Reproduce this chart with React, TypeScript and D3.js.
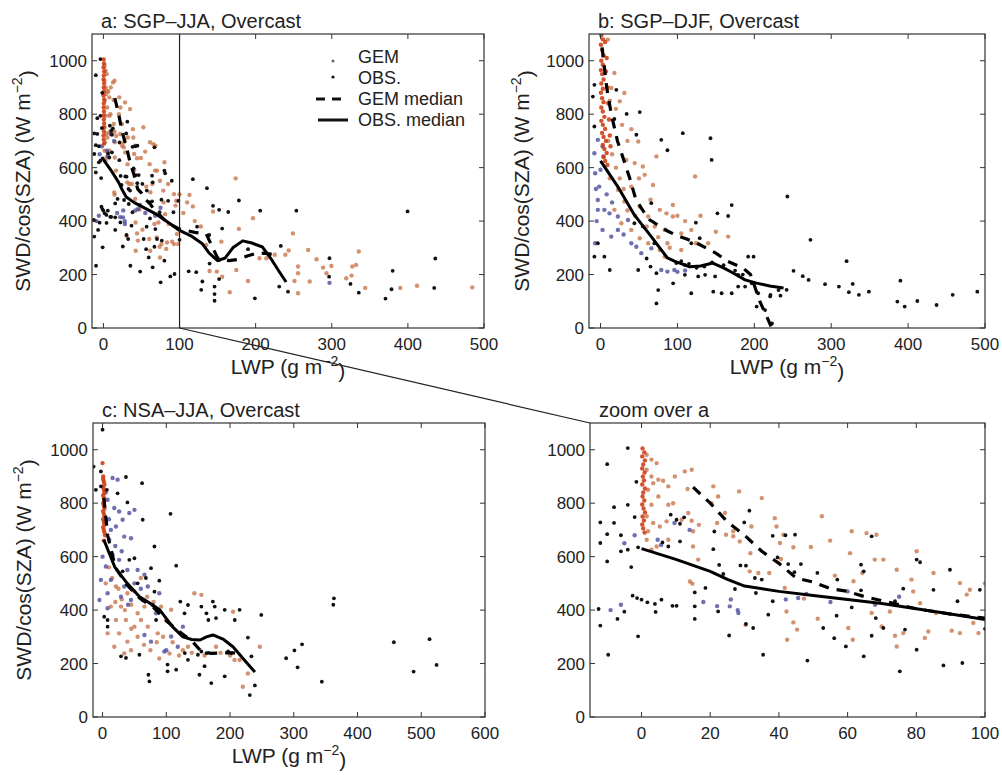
import React from 'react';
import * as d3 from 'd3';

type P = [number, number];

// ---------- tick labels / texts ----------
const xTicksAB = [0, 100, 200, 300, 400, 500];
const xTicksC = [0, 100, 200, 300, 400, 500, 600];
const xTicksD = [0, 20, 40, 60, 80, 100];
const yTicks = [0, 200, 400, 600, 800, 1000];
const titles = ['a: SGP\u2013JJA, Overcast', 'b: SGP\u2013DJF, Overcast', 'c: NSA\u2013JJA, Overcast', 'zoom over a'];
const legendLabels = ['GEM', 'OBS.', 'GEM median', 'OBS. median'];
const zoomLimit = 100;

// ---------- panel a (SGP-JJA) ----------
const aRed: P[] = [[0.3,1005],[0.8,990],[0.2,975],[1,960],[0.5,945],[0.2,930],[0.9,915],[0.4,900],[0.7,885],[0.2,870],[1,855],[0.5,840],[0.3,825],[0.8,810],[0.2,795],[0.6,780],[1,765],[0.3,750],[0.7,735],[0.2,720],[0.5,705],[0.9,690]];
const aOrange: P[] = [[1.5,981],[2.9,963],[4.4,950],[1.5,925],[2.9,900],[1.9,850],[3.4,875],[4.9,888],[6.3,884],[7.8,863],[9.2,800],[7.8,794],[4.9,825],[2.9,794],[1.5,751],[3.4,726],[5.3,713],[7.3,732],[7.8,663],[1.5,663],[1.9,695],[2.9,626],[4.4,638],[9.7,900],[12.6,919],[14.6,925],[13.4,853],[11.7,738],[13.6,763],[14.6,734],[15,695],[16.7,719],[15,638],[16.5,589],[14.1,507],[14.8,499],[20.9,863],[22.3,825],[20.4,800],[24.3,763],[22,726],[24.6,682],[26.7,695],[28.4,844],[28.6,657],[31.7,613],[32,713],[30.3,345],[31.5,545],[26.7,676],[34,539],[35,819],[37.2,539],[38.8,744],[39.3,713],[41.3,682],[40.3,651],[40.6,591],[42.2,395],[41.7,483],[44.2,354],[42.4,289],[45.3,327],[47.3,443],[44.2,635],[49.3,636],[52.5,751],[51.3,368],[54.9,660],[56.3,529],[60.7,613],[61.2,695],[60.2,333],[61.5,289],[61.7,508],[64.3,539],[65.5,688],[68.4,682],[67.9,589],[67,389],[69.9,339],[70.4,589],[72.3,395],[73.8,304],[74.3,264],[74.3,551],[76.2,314],[78.6,514],[79.1,470],[80.1,620],[81.1,426],[82.5,296],[83.5,320],[85,539],[85.7,389],[90.3,323],[92.7,501],[92.7,314],[94.7,458],[95.6,476],[96.6,352],[98.1,314],[98.5,370],[113,498],[117.5,455],[144,436],[173.7,560],[196.5,411],[178,371],[249,354],[155,323],[135,311],[243.4,290],[239,274],[269,292],[280,257],[288.6,226],[293,205],[255.7,230],[255.7,205],[251,176],[255.7,130],[271,174],[319,186],[326,196],[327,230],[332,236],[335.5,286],[344,150],[390,150],[412,158],[484.6,152],[190,176],[166,134],[174.6,217],[156,192],[149,211],[139.5,213],[205,261],[214,261],[225,274],[299.5,232],[105,430],[110,470],[120,400],[128,380],[100,500]];
const aBlue: P[] = [[-9,400],[-6,420],[18,430],[22,415],[26,440],[28,400],[14,700],[-2,680],[-5,650],[42,440],[48,460],[55,430],[60,470],[68,420],[75,450],[4.7,663],[5.7,644],[9.6,726],[25.7,414],[28.2,389],[45.6,445],[297,169]];
const aObs: P[] = [[-4,1006],[-10,946],[-12,651],[-12,728],[-10,684],[-8,785],[-8,726],[-4,794],[-6,680],[-1,635],[-6,620],[-4,626],[-10,582],[-3,561],[-2,748],[-1.5,880],[-12.5,404],[-12,342],[-7,367],[-5,394],[-2.6,454],[-1.3,445],[0,439],[1.7,429],[3.9,423],[4.1,393],[5.8,439],[9,416],[10.2,416],[-9.7,233],[-1,302],[6.1,653],[7.8,638],[10.2,738],[8.5,757],[11.2,723],[12.4,747],[11.2,657],[15.5,466],[15.5,414],[15.5,367],[20.9,628],[21.2,694],[22.6,569],[23.8,535],[22.3,395],[18.6,483],[25.5,305],[27.2,479],[28.8,567],[30.4,566],[31.4,772],[29.9,728],[33,520],[30.4,348],[32.5,333],[33.3,464],[35,514],[35.4,233],[36.9,383],[38.2,678],[38.2,433],[39.6,597],[41.9,680],[44.7,682],[42.7,572],[44.5,542],[46.4,572],[48.3,211],[51.2,539],[52.9,333],[56.8,379],[56.1,295],[59.5,264],[57,514],[61.2,410],[63.9,570],[64.7,545],[63.9,474],[67,304],[64.7,227],[67,676],[68.2,370],[70.4,333],[73.8,433],[76.2,480],[75.2,171],[76.7,327],[80.1,589],[81.1,579],[80.1,252],[85,476],[87.9,193],[89.8,551],[92,433],[93.4,202],[98.5,476],[100,330],[117.5,557],[136,523],[178,477],[144,457],[152,442],[164,434],[206,439],[253.5,439],[123,379],[156,372],[139,348],[233,307],[190,295],[112,212],[122,209],[130,174],[128.5,143],[146,155],[146,127],[146,102],[152,183],[199,111],[231,155],[242.5,136],[296.5,192],[297,261],[324.6,165],[335.5,132],[370.6,110],[380,214],[378.5,145],[399.6,436],[434.6,150],[436,260],[152,254],[139.5,241]];
const aGemMedian: P[] = [[15,860],[20,800],[25,730],[30,680],[35,620],[40,575],[45,520],[50,505],[55,480],[60,470],[65,450],[70,435],[75,420],[80,405],[90,385],[100,370],[120,358],[135,352],[142,310],[150,262],[165,252],[176,256],[190,270],[203,281],[216,278],[228,272]];
const aObsMedian: P[] = [[0,630],[10,590],[20,545],[25,515],[30,490],[40,470],[50,455],[60,440],[70,425],[80,405],[90,385],[100,365],[115,345],[130,315],[139,280],[150,252],[160,262],[170,300],[183,326],[195,318],[209,303],[220,260],[230,215],[240,172]];

// ---------- panel b (SGP-DJF) ----------
const bRed: P[] = [[1,1095],[3,1080],[0.5,1060],[2,1040],[4,1020],[1,1000],[3,985],[0.5,965],[2,950],[4,930],[1,915],[3,895],[0.5,880],[2,860],[4,845],[1,825],[3,810],[5,790],[1,775],[3,760],[6,745],[2,730],[4,715],[7,700],[3,685],[5,670],[8,655],[4,640],[6,625],[9,610],[6,1070],[8,1010],[7,960],[9,900],[10,840],[11,780],[12,720],[13,680]];
const bOrange: P[] = [[9.5,1079],[18,954],[31,879],[25,848],[14,898],[40,744],[49,698],[44.4,617],[33.5,629],[55,604],[72.7,642],[57.4,573],[68.3,535],[123,567],[94,460],[77,442],[85.8,429],[94,417],[62,417],[70.5,380],[83.5,367],[51,454],[40,529],[31,473],[22.6,517],[18,442],[27,392],[40,367],[51,336],[62,317],[77,292],[83.5,267],[87,317],[105,292],[105,354],[118,367],[166,342],[124,317],[140,317],[10,700],[15,650],[20,600],[25,560],[12,560],[30,520],[35,440],[45,420],[60,380],[75,340],[90,300],[100,420],[110,400],[130,420],[150,360],[20,820],[28,760],[12,850],[35,700],[50,560],[65,480]];
const bBlue: P[] = [[-3.5,704],[2.6,679],[-8,654],[3.8,642],[-7,579],[-1.8,529],[-3.5,479],[5,442],[11.6,429],[22.6,417],[35.7,404],[40,317],[46.6,304],[53,280],[66,298],[79,217],[87,211],[96,217],[0,592],[2.6,367],[-7,317],[-3.5,442],[22.6,367],[13.9,342],[-5,400],[8,500],[15,470],[-6,520],[30,350],[100,210],[110,215]];
const bObs: P[] = [[51,808],[107,729],[143,710],[144.5,629],[79,704],[87,665],[46.6,723],[34,801],[20.5,891],[-8,910],[-10,866],[-8,754],[18,782],[170.6,460],[166,419],[152,429],[124,394],[129,336],[70,317],[55,380],[49,217],[5,267],[-3.5,317],[-8,267],[12,217],[72.7,205],[75,142],[72.7,92],[94.4,167],[118,130],[146.6,136],[157.5,130],[170.6,130],[188,155],[196.7,167],[205,130],[220.6,118],[231.5,142],[192,267],[199,267],[203,80],[214,67],[223,17],[109.7,199],[127,193],[136,199],[149,193],[179,199],[179,155],[98.5,243],[109.7,236],[44,392],[66,467],[118,317],[243,492],[273,330],[251,214],[263,194],[270.6,180],[292,164],[310,155],[320,250],[328,165],[323,134],[336,124],[349,136],[390,177],[386,99],[395.5,80],[412,101],[437,86],[458,124],[490,136],[242,143],[234,121],[221,124],[105,250],[115,240],[125,225],[135,230],[145,245],[160,235],[175,215],[185,200],[60,260],[65,230]];
const bGemMedian: P[] = [[2,1050],[8,900],[14,800],[22,700],[30,630],[38,560],[46,480],[55,440],[64,405],[72,390],[87,363],[100,345],[113,332],[125,318],[138,298],[150,280],[165,250],[185,225],[195,200],[200,160],[207,100],[215,50],[222,5]];
const bObsMedian: P[] = [[0,625],[22,531],[44,423],[66,342],[87,262],[96,250],[103,243],[116,229],[130,232],[146,243],[160,225],[173,205],[188,180],[203,168],[220,157],[238,150]];

// ---------- panel c (NSA-JJA) ----------
const cRed: P[] = [[1,900],[2,880],[1,860],[3,840],[2,820],[1,800],[3,780],[2,760],[1,740],[3,720],[2,700],[4,680],[2,660],[1,890],[3,870],[2,850],[1,830],[3,810],[2,790],[1,770],[3,750],[2,730],[1,710],[3,690],[0,950]];
const cOrange: P[] = [[50,338],[28.9,413],[36.7,363],[21,363],[26,313],[39,282],[44.6,250],[60.3,363],[71,338],[55,388],[65.7,413],[39,463],[21,488],[13,413],[7.9,313],[18.4,263],[34,238],[86.6,313],[91.8,413],[99.7,363],[107.6,401],[105,238],[89,219],[126,250],[134,263],[144,463],[155,457],[204.7,394],[220,113],[207,213],[228,163],[246.7,263],[178,263],[215,213],[10,560],[15,520],[25,480],[30,440],[45,420],[50,470],[60,520],[70,450],[80,430],[5,500],[20,430],[35,400],[45,330],[55,300],[65,270],[75,250],[85,280],[95,300],[110,280],[120,230],[140,240],[160,230],[185,240],[200,230]];
const cBlue: P[] = [[15.7,894],[23.6,888],[7.9,813],[18.4,782],[26,769],[31.5,738],[21,713],[13,700],[34,675],[44.6,669],[50,775],[42,763],[10.5,663],[0,600],[5.2,563],[15.7,607],[26,588],[39,550],[55,550],[71,488],[89,463],[65.7,532],[50,500],[34,488],[13,513],[-2.6,513],[7.9,463],[28.9,450],[44.6,438],[63,438],[78.7,419],[84,388],[7.9,407],[-5,438],[107.6,301],[118,263],[97,245],[76,282],[65.7,307],[126,338],[20,640],[30,620],[10,740],[5,840],[60,480],[40,420],[100,250]];
const cObs: P[] = [[0,1075],[-14,937],[-2.6,919],[-10.5,850],[-2.6,863],[6.8,850],[36.7,898],[62,875],[39,803],[23.6,837],[63,738],[106.6,760],[115.5,566],[81.4,638],[76,557],[68,520],[89,510],[55,500],[50,594],[42,588],[31.5,545],[81.4,469],[84,363],[122,432],[128.6,388],[134,419],[155,413],[163,388],[166,363],[173,432],[176,413],[178,370],[191.6,401],[207.4,363],[215,401],[228,297],[2.6,375],[7.9,363],[7.9,338],[28.9,227],[36.7,221],[57.8,233],[72,158],[73.5,133],[102,196],[115.5,177],[134,214],[129,239],[149.6,233],[170.6,127],[152,158],[191.6,152],[160,190],[155,245],[163,239],[197,245],[202,239],[233.6,227],[239,118],[231,82],[249,382],[102,171],[288,220],[301,249],[313,272],[306,186],[344,132],[363,444],[362,420],[457,280],[488,170],[513,291],[524,195]];
const cGemMedian: P[] = [[2,820],[8,680],[20,560],[38,495],[58,445],[80,410],[100,360],[120,320],[140,285],[155,245],[170,238],[190,240],[205,240],[220,237]];
const cObsMedian: P[] = [[2,663],[19,562],[38,502],[58,450],[75,425],[90,400],[110,337],[126,300],[140,290],[153,288],[163,300],[173,307],[190,290],[205,262],[220,220],[239,168]];

const FONT = '"Liberation Sans", Arial, Helvetica, sans-serif';
const C_ORANGE = '#c8764c';
const C_BLUE = '#4c4c9c';
const C_RED = '#cf3f16';
const C_OBS = '#111111';

type Box = { left: number; right: number; top: number; bottom: number };
type Series = { red: P[]; orange: P[]; blue: P[]; obs: P[]; gemMed: P[]; obsMed: P[] };

function YLabel({ x, y }: { x: number; y: number }) {
  return (
    <text transform={`translate(${x},${y}) rotate(-90)`} textAnchor="middle" fontSize={21} fontFamily={FONT} fill="#222">
      SWD/cos(SZA) (W m<tspan dy="-0.55em" fontSize={14}>{'\u22122'}</tspan><tspan dy="0.55em">)</tspan>
    </text>
  );
}
function XLabel({ x, y }: { x: number; y: number }) {
  return (
    <text x={x} y={y} textAnchor="middle" fontSize={21} fontFamily={FONT} fill="#222">
      LWP (g m<tspan dy="-0.55em" fontSize={14}>{'\u22122'}</tspan><tspan dy="0.55em">)</tspan>
    </text>
  );
}

function Panel({ id, box, xDomain, xTicks, title, s, xLabel, yLabelX }: {
  id: string; box: Box; xDomain: [number, number]; xTicks: number[]; title: string; s: Series; xLabel: boolean; yLabelX: number | null;
}) {
  const x = d3.scaleLinear().domain(xDomain).range([box.left, box.right]);
  const y = d3.scaleLinear().domain([0, 1100]).range([box.bottom, box.top]);
  const line = d3.line<P>().x(d => x(d[0])).y(d => y(d[1]));
  const tk = 5;
  const dots = (arr: P[], fill: string, r: number, op: number, key: string) =>
    arr.map((d, i) => <circle key={key + i} cx={x(d[0])} cy={y(d[1])} r={r} fill={fill} opacity={op} />);
  return (
    <g>
      <defs>
        <clipPath id={'clip' + id}>
          <rect x={box.left} y={box.top} width={box.right - box.left} height={box.bottom - box.top} />
        </clipPath>
      </defs>
      <g clipPath={`url(#clip${id})`}>
        {dots(s.orange, C_ORANGE, 2.2, 0.8, 'o')}
        {dots(s.blue, C_BLUE, 2.2, 0.8, 'b')}
        {dots(s.red, C_RED, 2.2, 0.9, 'r')}
        {dots(s.obs, C_OBS, 1.9, 1, 'k')}
        <path d={line(s.gemMed) || ''} fill="none" stroke="#000" strokeWidth={3.2} strokeDasharray="10,8" />
        <path d={line(s.obsMed) || ''} fill="none" stroke="#000" strokeWidth={3} strokeLinejoin="round" />
      </g>
      <rect x={box.left} y={box.top} width={box.right - box.left} height={box.bottom - box.top} fill="none" stroke="#333" strokeWidth={1.2} />
      {xTicks.map(t => (
        <g key={'xt' + t}>
          <line x1={x(t)} x2={x(t)} y1={box.bottom} y2={box.bottom - tk} stroke="#333" />
          <line x1={x(t)} x2={x(t)} y1={box.top} y2={box.top + tk} stroke="#333" />
          <text x={x(t)} y={box.bottom + 22} textAnchor="middle" fontSize={17} fontFamily={FONT} fill="#222">{t}</text>
        </g>
      ))}
      {yTicks.map(t => (
        <g key={'yt' + t}>
          <line x1={box.left} x2={box.left + tk} y1={y(t)} y2={y(t)} stroke="#333" />
          <line x1={box.right} x2={box.right - tk} y1={y(t)} y2={y(t)} stroke="#333" />
          <text x={box.left - 5} y={y(t)} dy="0.36em" textAnchor="end" fontSize={17} fontFamily={FONT} fill="#222">{t}</text>
        </g>
      ))}
      <text x={box.left + 9} y={box.top - 6} fontSize={20} fontFamily={FONT} fill="#222">{title}</text>
      {xLabel && <XLabel x={(box.left + box.right) / 2} y={box.bottom + 46} />}
      {yLabelX !== null && <YLabel x={yLabelX} y={(box.top + box.bottom) / 2} />}
    </g>
  );
}

export default function App() {
  const boxA: Box = { left: 92, right: 484, top: 34, bottom: 328 };
  const boxB: Box = { left: 589, right: 985, top: 34, bottom: 328 };
  const boxC: Box = { left: 93, right: 485, top: 423, bottom: 717 };
  const boxD: Box = { left: 590, right: 985, top: 423, bottom: 717 };
  const sA: Series = { red: aRed, orange: aOrange, blue: aBlue, obs: aObs, gemMed: aGemMedian, obsMed: aObsMedian };
  const sB: Series = { red: bRed, orange: bOrange, blue: bBlue, obs: bObs, gemMed: bGemMedian, obsMed: bObsMedian };
  const sC: Series = { red: cRed, orange: cOrange, blue: cBlue, obs: cObs, gemMed: cGemMedian, obsMed: cObsMedian };
  const xA = d3.scaleLinear().domain([-15, 500]).range([boxA.left, boxA.right]);
  const lx = 333, ltx = 358;
  const ly = [57, 78, 99, 120];
  return (
    <svg width={1002} height={775} style={{ position: 'absolute', left: 0, top: 0, background: '#fff' }}>
      <rect width={1002} height={775} fill="#fff" />
      <Panel id="a" box={boxA} xDomain={[-15, 500]} xTicks={xTicksAB} title={titles[0]} s={sA} xLabel={true} yLabelX={30} />
      <Panel id="b" box={boxB} xDomain={[-15, 500]} xTicks={xTicksAB} title={titles[1]} s={sB} xLabel={true} yLabelX={529} />
      <Panel id="c" box={boxC} xDomain={[-15, 600]} xTicks={xTicksC} title={titles[2]} s={sC} xLabel={true} yLabelX={31} />
      <Panel id="d" box={boxD} xDomain={[-15, zoomLimit]} xTicks={xTicksD} title={titles[3]} s={sA} xLabel={false} yLabelX={null} />
      {/* zoom marker */}
      <line x1={xA(zoomLimit)} x2={xA(zoomLimit)} y1={boxA.top} y2={boxA.bottom} stroke="#222" strokeWidth={1.2} />
      <line x1={xA(zoomLimit)} y1={boxA.bottom} x2={boxD.left} y2={boxD.top} stroke="#222" strokeWidth={1.2} />
      {/* legend */}
      <circle cx={lx} cy={ly[0] + 4} r={1.5} fill="#666" />
      <circle cx={lx} cy={ly[1] - 1} r={1.6} fill="#111" />
      <line x1={316} x2={348} y1={ly[2]} y2={ly[2]} stroke="#111" strokeWidth={3} strokeDasharray="9,7" />
      <line x1={318} x2={348} y1={ly[3]} y2={ly[3]} stroke="#111" strokeWidth={3} />
      {legendLabels.map((t, i) => (
        <text key={t} x={ltx} y={ly[i]} dy="0.36em" fontSize={18} fontFamily={FONT} fill="#222">{t}</text>
      ))}
    </svg>
  );
}
